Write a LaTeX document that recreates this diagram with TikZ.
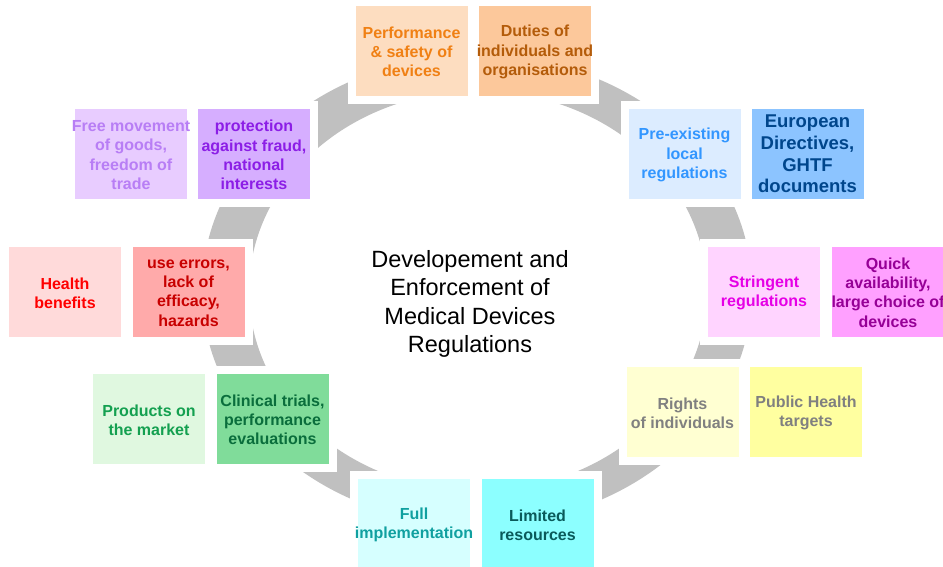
\documentclass[tikz,border=0pt]{standalone}
\usepackage{fontspec}
\setmainfont{Liberation Sans}

% fills and text colours of the sixteen cards
\definecolor{ringgray}{RGB}{192,192,192}
\definecolor{perfF}{RGB}{253,221,192}  \definecolor{perfT}{RGB}{240,128,20}
\definecolor{dutyF}{RGB}{252,200,155}  \definecolor{dutyT}{RGB}{180,92,10}
\definecolor{freeF}{RGB}{232,204,255}  \definecolor{freeT}{RGB}{184,126,245}
\definecolor{protF}{RGB}{214,174,255}  \definecolor{protT}{RGB}{140,30,230}
\definecolor{preF}{RGB}{220,236,255}   \definecolor{preT}{RGB}{50,150,255}
\definecolor{euroF}{RGB}{140,196,255}  \definecolor{euroT}{RGB}{0,70,140}
\definecolor{healF}{RGB}{255,218,218}  \definecolor{healT}{RGB}{255,0,0}
\definecolor{useF}{RGB}{255,170,170}   \definecolor{useT}{RGB}{200,0,0}
\definecolor{strF}{RGB}{255,212,255}   \definecolor{strT}{RGB}{230,0,230}
\definecolor{quiF}{RGB}{255,160,255}   \definecolor{quiT}{RGB}{150,0,150}
\definecolor{proF}{RGB}{224,248,224}   \definecolor{proT}{RGB}{20,160,80}
\definecolor{cliF}{RGB}{128,220,154}   \definecolor{cliT}{RGB}{10,110,60}
\definecolor{rigF}{RGB}{255,255,210}   \definecolor{rigT}{RGB}{128,128,128}
\definecolor{pubF}{RGB}{255,255,160}   \definecolor{pubT}{RGB}{128,128,128}
\definecolor{fulF}{RGB}{214,255,255}   \definecolor{fulT}{RGB}{16,160,160}
\definecolor{limF}{RGB}{140,255,255}   \definecolor{limT}{RGB}{10,90,90}

\begin{document}
\begin{tikzpicture}[x=1pt,y=-1pt,
  card/.style={minimum width=112pt, minimum height=90pt, inner sep=0pt,
    outer sep=0pt, preaction={draw=white, line width=16pt}},
  cardtext/.style={align=center, inner sep=0pt,
    font=\bfseries\fontsize{16}{19.2}\selectfont},
  bigtext/.style={align=center, inner sep=0pt,
    font=\bfseries\fontsize{18.5}{21.6}\selectfont},
  hubtext/.style={align=center, inner sep=0pt,
    font=\fontsize{23.5}{28.5}\selectfont}]

\useasboundingbox (0,0) rectangle (943,567);
\clip (0,0) rectangle (943,567);

% the grey cycle ring behind the cards
\fill[ringgray, even odd rule]
  (477,290) ellipse [x radius=275pt, y radius=235pt]
  (478,291) ellipse [x radius=229pt, y radius=200pt];

% centre caption
\node[hubtext] (hub) at (470,304)
  {Developement and\\Enforcement of\\Medical Devices\\Regulations};

% top pair
\node[card, fill=perfF] (perf) at (411.5,51) {};
\node[cardtext, text=perfT] (perf-t) at ([yshift=-1pt]perf.center) {Performance\\\& safety of\\devices};
\node[card, fill=dutyF] (duty) at (535,51) {};
\node[cardtext, text=dutyT] (duty-t) at ([yshift=-1pt]duty.center) {Duties of\\individuals and\\organisations};

% upper right pair
\node[card, fill=preF] (pre) at (684.5,154) {};
\node[cardtext, text=preT] (pre-t) at ([yshift=-1pt]pre.center) {Pre-existing\\local\\regulations};
\node[card, fill=euroF] (euro) at (807.5,154) {};
\node[bigtext, text=euroT] (euro-t) at (euro.center) {European\\Directives,\\GHTF\\documents};

% right pair
\node[card, fill=strF] (str) at (764,291.5) {};
\node[cardtext, text=strT] (str-t) at ([yshift=-1pt]str.center) {Stringent\\regulations};
\node[card, fill=quiF] (qui) at (888,291.5) {};
\node[cardtext, text=quiT] (qui-t) at ([yshift=-1pt]qui.center) {Quick\\availability,\\large choice of\\devices};

% lower right pair
\node[card, fill=rigF] (rig) at (682.5,412) {};
\node[cardtext, text=rigT] (rig-t) at ([yshift=-1pt]rig.center) {Rights\\of individuals};
\node[card, fill=pubF] (pub) at (806,412) {};
\node[cardtext, text=pubT] (pub-t) at ([yshift=-1pt]pub.center) {Public Health\\targets};

% bottom pair
\node[card, fill=fulF] (ful) at (414,524) {};
\node[cardtext, text=fulT] (ful-t) at ([yshift=-1pt]ful.center) {Full\\implementation};
\node[card, fill=limF] (lim) at (537.5,524) {};
\node[cardtext, text=limT] (lim-t) at ([yshift=-1pt]lim.center) {Limited\\resources};

% lower left pair
\node[card, fill=proF] (pro) at (149,419) {};
\node[cardtext, text=proT] (pro-t) at ([yshift=-1pt]pro.center) {Products on\\the market};
\node[card, fill=cliF] (cli) at (272.5,419) {};
\node[cardtext, text=cliT] (cli-t) at ([yshift=-1pt]cli.center) {Clinical trials,\\performance\\evaluations};

% left pair
\node[card, fill=healF] (heal) at (65,292) {};
\node[cardtext, text=healT] (heal-t) at ([yshift=-1pt]heal.center) {Health\\benefits};
\node[card, fill=useF] (use) at (188.5,292) {};
\node[cardtext, text=useT] (use-t) at ([yshift=-1pt]use.center) {use errors,\\lack of\\efficacy,\\hazards};

% upper left pair
\node[card, fill=freeF] (free) at (131,154) {};
\node[cardtext, text=freeT] (free-t) at ([yshift=-1pt]free.center) {Free movement\\of goods,\\freedom of\\trade};
\node[card, fill=protF] (prot) at (254,154) {};
\node[cardtext, text=protT] (prot-t) at ([yshift=-1pt]prot.center) {protection\\against fraud,\\national\\interests};
\end{tikzpicture}
\end{document}
